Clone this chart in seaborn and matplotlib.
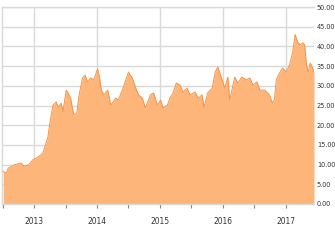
import matplotlib
matplotlib.use("Agg")
import matplotlib.pyplot as plt
import seaborn as sns
import pandas as pd
from matplotlib import font_manager

years = [2012.51, 2012.56, 2012.59, 2012.68, 2012.79, 2012.84, 2012.91, 2012.98,
         2013.06, 2013.14, 2013.17, 2013.22, 2013.25, 2013.30, 2013.35, 2013.39,
         2013.43, 2013.46, 2013.51, 2013.54, 2013.58, 2013.63, 2013.68, 2013.71,
         2013.77, 2013.81, 2013.85, 2013.90, 2013.95, 2014.01, 2014.04, 2014.07,
         2014.11, 2014.17, 2014.22, 2014.30, 2014.34, 2014.42, 2014.50, 2014.56,
         2014.61, 2014.66, 2014.72, 2014.77, 2014.85, 2014.90, 2014.96, 2015.01,
         2015.05, 2015.12, 2015.16, 2015.21, 2015.26, 2015.32, 2015.37, 2015.43,
         2015.48, 2015.56, 2015.61, 2015.67, 2015.70, 2015.73, 2015.76, 2015.83,
         2015.88, 2015.92, 2015.99, 2016.03, 2016.08, 2016.11, 2016.19, 2016.24,
         2016.30, 2016.38, 2016.43, 2016.48, 2016.54, 2016.59, 2016.67, 2016.74,
         2016.79, 2016.82, 2016.85, 2016.90, 2016.95, 2017.01, 2017.06, 2017.11,
         2017.15, 2017.19, 2017.23, 2017.27, 2017.30, 2017.33, 2017.36, 2017.39,
         2017.42, 2017.45]
prices = [8.2, 7.9, 9.1, 9.9, 10.4, 9.6, 9.9, 11.2,
          11.9, 12.9, 14.5, 17.0, 20.5, 25.1, 25.9, 24.6,
          25.6, 23.4, 28.9, 28.2, 26.9, 22.6, 23.1, 27.2,
          32.0, 32.7, 31.0, 32.0, 31.5, 34.3, 32.2, 28.9,
          27.7, 28.9, 25.1, 26.9, 26.4, 29.7, 33.5, 32.0,
          29.7, 27.7, 26.9, 24.4, 27.7, 28.2, 25.1, 26.4,
          24.4, 25.1, 26.9, 28.2, 30.7, 30.2, 28.4, 29.4,
          27.7, 28.4, 26.9, 27.7, 24.6, 26.4, 28.2, 29.4,
          33.5, 34.8, 31.5, 29.4, 32.2, 26.4, 32.2, 30.7,
          32.2, 31.5, 32.0, 30.2, 31.0, 28.9, 28.9, 27.7,
          25.6, 26.5, 31.5, 33.2, 34.5, 33.5, 35.3, 38.5,
          43.0, 41.1, 40.4, 40.9, 40.4, 35.3, 33.5, 35.8,
          34.8, 33.5]

year_ticks = [2013, 2014, 2015, 2016, 2017]
year_labels = ["2013", "2014", "2015", "2016", "2017"]
y_ticks = [0, 5, 10, 15, 20, 25, 30, 35, 40, 45, 50]
y_labels = ["0.00", "5.00", "10.00", "15.00", "20.00", "25.00", "30.00",
            "35.00", "40.00", "45.00", "50.00"]

df = pd.DataFrame({"year": years, "price": prices})

sns.set_theme(style="white")

# pick a condensed face if one is installed
cond = None
pref = ["Liberation Sans Narrow", "Noto Sans", "Open Sans", "DejaVu Sans",
        "Roboto", "Liberation Serif"]
for fam in pref:
    for f in font_manager.fontManager.ttflist:
        st = str(f.stretch)
        if f.name == fam and f.style == "normal" and \
           (("condensed" in st and "semi" not in st) or fam == "Liberation Sans Narrow") and \
           str(f.weight) in ("400", "normal", "regular"):
            cond = f.fname
            break
    if cond:
        break
if cond:
    ytick_fp = font_manager.FontProperties(fname=cond, size=5.2)
    xtick_fp = font_manager.FontProperties(fname=cond, size=6.0)
else:
    ytick_fp = font_manager.FontProperties(family="Liberation Serif", size=5.0)
    xtick_fp = font_manager.FontProperties(family="Liberation Serif", size=5.8)

fig = plt.figure(figsize=(3.35, 2.4), dpi=100)
ax = fig.add_axes([2 / 335, 1 - 204 / 240, 312 / 335, 197 / 240])

ax.fill_between(df["year"], df["price"], 0, color="#FDB57A", linewidth=0, zorder=2)
sns.lineplot(data=df, x="year", y="price", ax=ax, color="#F0944A", linewidth=0.7, zorder=3)

ax.set_xlim(2012.49, 2017.45)
ax.set_ylim(0, 50)
ax.set_xticks(year_ticks)
ax.set_xticklabels(year_labels, fontproperties=xtick_fp)
ax.set_xticks([2012.5, 2013.5, 2014.5, 2015.5, 2016.5], minor=True)
ax.set_yticks(y_ticks)
ax.set_yticklabels(y_labels, fontproperties=ytick_fp)
ax.yaxis.tick_right()
ax.set_xlabel("")
ax.set_ylabel("")

ax.grid(True, axis="both", which="major", color="#D9D9D9", linewidth=1.0, zorder=0)
ax.set_axisbelow(True)
for s in ax.spines.values():
    s.set_color("#D9D9D9")
    s.set_linewidth(1.0)
ax.spines["right"].set_visible(False)

ax.tick_params(axis="x", which="both", bottom=True, direction="out", length=3,
               width=0.8, color="#888888", pad=6, labelcolor="#333333")
ax.tick_params(axis="y", which="both", right=False, left=False, length=0,
               pad=2, labelcolor="#333333")

fig.savefig("out.png", dpi=100)
